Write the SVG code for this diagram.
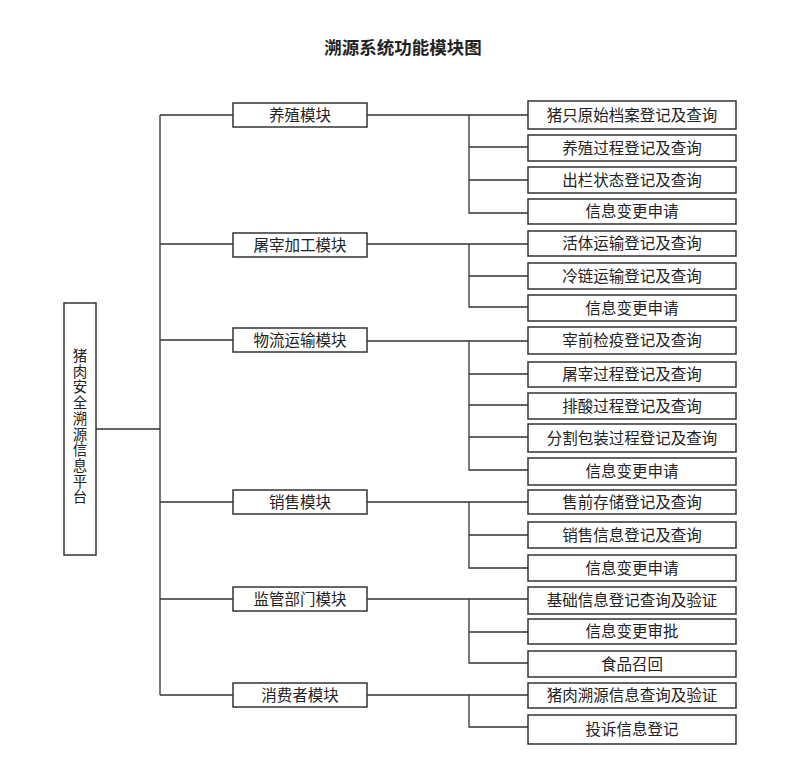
<svg xmlns="http://www.w3.org/2000/svg" width="805" height="777" viewBox="0 0 805 777">
<style>
text{font-family:"Liberation Serif","Noto Sans CJK SC",serif;fill:#222;font-size:15.5px;text-anchor:middle;dominant-baseline:central}
.box{fill:#fff;stroke:#333;stroke-width:1.5}
.ln{fill:none;stroke:#333;stroke-width:1.3}
.title{font-size:17.5px;font-weight:bold}
.v{font-size:14.5px}
</style>
<rect width="805" height="777" fill="#fff"/>
<text class="title" x="403" y="48">溯源系统功能模块图</text>
<g id="connectors">
<path class="ln" d="M96 429H160M160 115V695M160 115H233M160 244H233M160 340H233M160 502H233M160 599H233M160 695H233"/>
<path class="ln" d="M367 115H528M469 115V213H528M469 147H528M469 180H528"/>
<path class="ln" d="M367 244H528M469 244V307H528M469 276H528"/>
<path class="ln" d="M367 341H528M469 341V470H528M469 374H528M469 405H528M469 437H528"/>
<path class="ln" d="M367 502H528M469 502V568H528M469 535H528"/>
<path class="ln" d="M367 599H528M469 599V663H528M469 632H528"/>
<path class="ln" d="M367 695H528M469 695V727H528"/>
</g>
<g id="root"><rect class="box" x="64" y="303" width="32" height="252"/>
<text class="v" x="80" y="356">猪</text><text class="v" x="80" y="371.7">肉</text><text class="v" x="80" y="387.4">安</text><text class="v" x="80" y="403.1">全</text><text class="v" x="80" y="418.8">溯</text><text class="v" x="80" y="434.5">源</text><text class="v" x="80" y="450.2">信</text><text class="v" x="80" y="465.9">息</text><text class="v" x="80" y="481.6">平</text><text class="v" x="80" y="497.3">台</text></g>
<g id="m1"><rect class="box" x="233" y="103" width="134" height="24"/><text x="300" y="115">养殖模块</text></g>
<g id="m2"><rect class="box" x="233" y="233" width="134" height="24"/><text x="300" y="245">屠宰加工模块</text></g>
<g id="m3"><rect class="box" x="233" y="328" width="134" height="24"/><text x="300" y="340">物流运输模块</text></g>
<g id="m4"><rect class="box" x="233" y="490" width="134" height="24"/><text x="300" y="502">销售模块</text></g>
<g id="m5"><rect class="box" x="233" y="587" width="134" height="24"/><text x="300" y="599">监管部门模块</text></g>
<g id="m6"><rect class="box" x="233" y="683" width="134" height="24"/><text x="300" y="695">消费者模块</text></g>
<g id="s1"><rect class="box" x="528" y="101" width="208" height="28"/><text x="632" y="115">猪只原始档案登记及查询</text></g>
<g id="s2"><rect class="box" x="528" y="135" width="208" height="26"/><text x="632" y="148">养殖过程登记及查询</text></g>
<g id="s3"><rect class="box" x="528" y="167" width="208" height="26"/><text x="632" y="180">出栏状态登记及查询</text></g>
<g id="s4"><rect class="box" x="528" y="199" width="208" height="25"/><text x="632" y="211.5">信息变更申请</text></g>
<g id="s5"><rect class="box" x="528" y="231" width="208" height="25"/><text x="632" y="243.5">活体运输登记及查询</text></g>
<g id="s6"><rect class="box" x="528" y="263" width="208" height="26"/><text x="632" y="276">冷链运输登记及查询</text></g>
<g id="s7"><rect class="box" x="528" y="295" width="208" height="26"/><text x="632" y="308">信息变更申请</text></g>
<g id="s8"><rect class="box" x="528" y="327" width="208" height="27"/><text x="632" y="340.5">宰前检疫登记及查询</text></g>
<g id="s9"><rect class="box" x="528" y="362" width="208" height="25"/><text x="632" y="374.5">屠宰过程登记及查询</text></g>
<g id="s10"><rect class="box" x="528" y="393" width="208" height="26"/><text x="632" y="406">排酸过程登记及查询</text></g>
<g id="s11"><rect class="box" x="528" y="424" width="208" height="28"/><text x="632" y="438">分割包装过程登记及查询</text></g>
<g id="s12"><rect class="box" x="528" y="458" width="208" height="27"/><text x="632" y="471.5">信息变更申请</text></g>
<g id="s13"><rect class="box" x="528" y="490" width="208" height="24"/><text x="632" y="502">售前存储登记及查询</text></g>
<g id="s14"><rect class="box" x="528" y="522" width="208" height="26"/><text x="632" y="535">销售信息登记及查询</text></g>
<g id="s15"><rect class="box" x="528" y="555" width="208" height="26"/><text x="632" y="568">信息变更申请</text></g>
<g id="s16"><rect class="box" x="528" y="587" width="208" height="27"/><text x="632" y="600.5">基础信息登记查询及验证</text></g>
<g id="s17"><rect class="box" x="528" y="619" width="208" height="25"/><text x="632" y="631.5">信息变更审批</text></g>
<g id="s18"><rect class="box" x="528" y="651" width="208" height="26"/><text x="632" y="664">食品召回</text></g>
<g id="s19"><rect class="box" x="528" y="683" width="208" height="25"/><text x="632" y="695.5">猪肉溯源信息查询及验证</text></g>
<g id="s20"><rect class="box" x="528" y="715" width="208" height="29"/><text x="632" y="729.5">投诉信息登记</text></g>
</svg>
